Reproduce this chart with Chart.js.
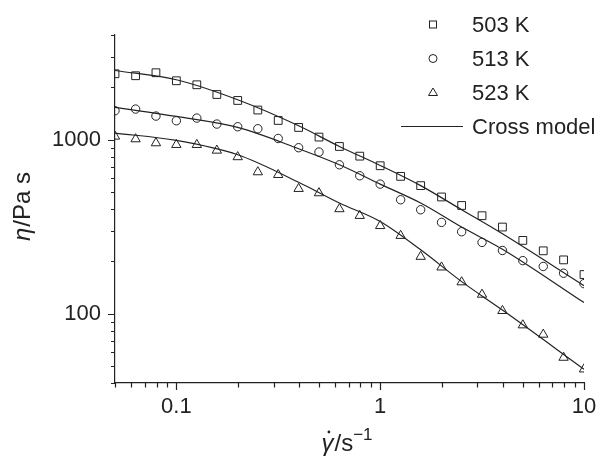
<!DOCTYPE html>
<html>
<head>
<meta charset="utf-8">
<script src="https://cdn.jsdelivr.net/npm/chart.js@4.4.0/dist/chart.umd.min.js"></script>
<style>
html, body { margin: 0; padding: 0; background: #fff; }
#wrap { width: 602px; height: 458px; }
</style>
</head>
<body>
<div id="wrap"><canvas id="chart" width="602" height="458"></canvas></div>
<script>
// shear rate (1/s) of the measured points
var shearRate = [0.05, 0.0631, 0.0794, 0.1, 0.126, 0.158, 0.2, 0.251, 0.316, 0.398, 0.501, 0.631,
                 0.794, 1, 1.26, 1.58, 2, 2.51, 3.16, 3.98, 5.01, 6.31, 7.94, 10];
// measured viscosity (Pa s)
var visc503 = [2395, 2333, 2427, 2183, 2070, 1820, 1682, 1482, 1291, 1177, 1036, 915,
               805, 709, 616, 545, 469, 419, 366, 315, 264, 230, 204, 168];
var visc513 = [1468, 1501, 1368, 1286, 1332, 1231, 1188, 1157, 1017, 900, 850, 718,
               621, 556, 452, 396, 335, 296, 257, 231, 202, 187, 171, 149];
var visc523 = [1045, 1009, 957, 936, 936, 868, 796, 652, 629, 523, 494, 400,
               366, 320, 281, 213, 185, 152, 129, 104, 86, 76, 56, 48];

// Cross model curves
var crossX = [0.05, 0.1, 0.2, 0.398, 0.631, 1, 1.58, 2.51, 3.98, 10];
var cross503 = [2500, 2213, 1698, 1203, 915, 712, 545, 396, 288, 145];
var cross513 = [1534, 1361, 1177, 888, 718, 556, 433, 315, 235, 116];
var cross523 = [1093, 991, 820, 570, 433, 339, 233, 153, 105, 48];

var seriesNames = ['503 K', '513 K', '523 K', 'Cross model'];
var xTicks = [0.05, 0.06, 0.07, 0.08, 0.09, 0.1, 0.2, 0.3, 0.4, 0.5, 0.6, 0.7, 0.8, 0.9, 1,
              2, 3, 4, 5, 6, 7, 8, 9, 10];
var xLabels = [0.1, 1, 10];
var yTicks = [40, 50, 60, 70, 80, 90, 100, 200, 300, 400, 500, 600, 700, 800, 900, 1000,
              2000, 3000, 4000];
var yLabels = [100, 1000];

var ink = '#222';
var fontFamily = '"Liberation Sans", Arial, Helvetica, sans-serif';

function pts(xs, ys) {
    var out = [];
    for (var i = 0; i < xs.length; i++) {
        out.push({ x: xs[i], y: ys[i] });
    }
    return out;
}

function markerSet(label, data, style, radius) {
    return {
        label: label,
        data: pts(shearRate, data),
        showLine: false,
        pointStyle: style,
        pointRadius: radius,
        pointHoverRadius: radius,
        pointBorderWidth: 1,
        pointBorderColor: ink,
        pointBackgroundColor: 'rgba(0,0,0,0)',
        borderColor: ink
    };
}

function curveSet(data) {
    return {
        label: seriesNames[3],
        data: pts(crossX, data),
        showLine: true,
        borderColor: ink,
        borderWidth: 1.2,
        pointRadius: 0,
        cubicInterpolationMode: 'monotone',
        fill: false
    };
}

// tick marks, axis titles and the legend
var decorations = {
    id: 'decorations',
    afterDraw: function (chart) {
        var ctx = chart.ctx;
        var xs = chart.scales.x, ys = chart.scales.y;
        var area = chart.chartArea;
        ctx.save();
        ctx.strokeStyle = ink;
        ctx.lineWidth = 1.2;
        ctx.beginPath();
        xTicks.forEach(function (v) {
            var px = Math.round(xs.getPixelForValue(v)) + 0.5;
            var len = xLabels.indexOf(v) >= 0 ? 7 : 4.5;
            ctx.moveTo(px, area.bottom);
            ctx.lineTo(px, area.bottom + len);
        });
        yTicks.forEach(function (v) {
            var py = Math.round(ys.getPixelForValue(v)) + 0.5;
            var len = yLabels.indexOf(v) >= 0 ? 7 : 4;
            ctx.moveTo(area.left, py);
            ctx.lineTo(area.left - len, py);
        });
        ctx.stroke();

        // x title
        ctx.fillStyle = ink;
        ctx.textBaseline = 'alphabetic';
        ctx.textAlign = 'left';
        var f1 = 'italic 24px ' + fontFamily, f2 = '24px ' + fontFamily, f3 = '17px ' + fontFamily;
        ctx.font = f1; var w1 = ctx.measureText('\u03b3').width;
        ctx.font = f2; var w2 = ctx.measureText('/s').width;
        ctx.font = f3; var w3 = ctx.measureText('\u22121').width;
        var cx = (area.left + area.right) / 2 - 3;
        var x0 = cx - (w1 + w2 + w3) / 2;
        var base = 451;
        ctx.font = f1; ctx.fillText('\u03b3', x0, base);
        ctx.beginPath();
        ctx.arc(x0 + w1 * 0.62, base - 19, 1.4, 0, Math.PI * 2);
        ctx.fill();
        ctx.font = f2; ctx.fillText('/s', x0 + w1 + 1, base);
        ctx.font = f3; ctx.fillText('\u22121', x0 + w1 + w2 + 1, base - 11);

        // y title
        ctx.save();
        ctx.translate(30, (area.top + area.bottom) / 2 - 2);
        ctx.rotate(-Math.PI / 2);
        ctx.font = f1; var e1 = ctx.measureText('\u03b7').width;
        ctx.font = f2; var e2 = ctx.measureText('/Pa s').width;
        var y0 = -(e1 + e2) / 2;
        ctx.font = f1; ctx.fillText('\u03b7', y0, 0);
        ctx.font = f2; ctx.fillText('/Pa s', y0 + e1 + 1, 0);
        ctx.restore();

        // legend
        var lx = 433, tx = 472;
        var rows = [24.5, 58.5, 92.5, 126.5];
        ctx.font = '22px ' + fontFamily;
        ctx.textBaseline = 'middle';
        ctx.lineWidth = 1;
        ctx.strokeRect(lx - 3.5, rows[0] - 3.5, 7, 7);
        ctx.beginPath();
        ctx.arc(lx, rows[1], 4, 0, Math.PI * 2);
        ctx.stroke();
        ctx.beginPath();
        ctx.moveTo(lx, rows[2] - 4.5);
        ctx.lineTo(lx + 4.5, rows[2] + 3);
        ctx.lineTo(lx - 4.5, rows[2] + 3);
        ctx.closePath();
        ctx.stroke();
        ctx.beginPath();
        ctx.lineWidth = 1.2;
        ctx.moveTo(401, rows[3]);
        ctx.lineTo(463, rows[3]);
        ctx.stroke();
        for (var i = 0; i < seriesNames.length; i++) {
            ctx.fillText(seriesNames[i], tx, rows[i] + 1);
        }
        ctx.restore();
    }
};

new Chart(document.getElementById('chart'), {
    type: 'scatter',
    data: {
        datasets: [
            markerSet(seriesNames[0], visc503, 'rect', 5.5),
            markerSet(seriesNames[1], visc513, 'circle', 4.2),
            markerSet(seriesNames[2], visc523, 'triangle', 5.4),
            curveSet(cross503),
            curveSet(cross513),
            curveSet(cross523)
        ]
    },
    options: {
        responsive: false,
        animation: false,
        layout: { padding: { left: 0, right: 18, top: 35, bottom: 0 } },
        plugins: {
            legend: { display: false },
            tooltip: { enabled: false }
        },
        scales: {
            x: {
                type: 'logarithmic',
                min: 0.05,
                max: 10,
                afterBuildTicks: function (scale) {
                    scale.ticks = xTicks.map(function (v) { return { value: v }; });
                },
                afterFit: function (scale) {
                    scale.height = 75;
                    scale.paddingLeft = 0;
                    scale.paddingRight = 0;
                },
                grid: { drawOnChartArea: false, drawTicks: false },
                border: { display: true, color: ink, width: 1.2 },
                ticks: {
                    autoSkip: false,
                    maxRotation: 0,
                    padding: 11,
                    color: ink,
                    font: { family: fontFamily, size: 22 },
                    callback: function (v) { return xLabels.indexOf(v) >= 0 ? String(v) : ''; }
                }
            },
            y: {
                type: 'logarithmic',
                min: 40,
                max: 4000,
                afterBuildTicks: function (scale) {
                    scale.ticks = yTicks.map(function (v) { return { value: v }; });
                },
                afterFit: function (scale) {
                    scale.width = 115;
                    scale.paddingTop = 0;
                    scale.paddingBottom = 0;
                },
                grid: { drawOnChartArea: false, drawTicks: false },
                border: { display: true, color: ink, width: 1.2 },
                ticks: {
                    autoSkip: false,
                    padding: 14,
                    color: ink,
                    font: { family: fontFamily, size: 22 },
                    callback: function (v) { return yLabels.indexOf(v) >= 0 ? String(v) : ''; }
                }
            }
        }
    },
    plugins: [decorations]
});
</script>
</body>
</html>
